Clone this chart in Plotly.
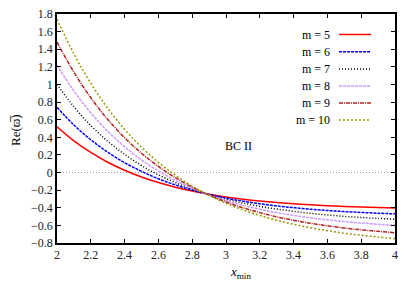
import plotly.graph_objects as go

x_min = [2.0, 2.1, 2.2, 2.3, 2.4, 2.5, 2.6, 2.7, 2.8, 2.9, 3.0,
         3.1, 3.2, 3.3, 3.4, 3.5, 3.6, 3.7, 3.8, 3.9, 4.0]

re_m5 = [0.520, 0.360, 0.228, 0.117, 0.026, -0.051, -0.114, -0.166, -0.210, -0.246, -0.277,
         -0.302, -0.323, -0.340, -0.354, -0.366, -0.376, -0.385, -0.392, -0.397, -0.402]
re_m6 = [0.740, 0.540, 0.372, 0.231, 0.112, 0.013, -0.071, -0.141, -0.199, -0.249, -0.290,
         -0.325, -0.354, -0.379, -0.399, -0.417, -0.431, -0.443, -0.453, -0.462, -0.469]
re_m7 = [1.000, 0.747, 0.534, 0.356, 0.206, 0.080, -0.026, -0.114, -0.189, -0.251, -0.303,
         -0.347, -0.384, -0.415, -0.441, -0.463, -0.482, -0.497, -0.510, -0.521, -0.530]
re_m8 = [1.220, 0.926, 0.678, 0.468, 0.292, 0.143, 0.017, -0.089, -0.178, -0.254, -0.318,
         -0.372, -0.417, -0.455, -0.487, -0.514, -0.537, -0.557, -0.573, -0.587, -0.599]
re_m9 = [1.480, 1.139, 0.849, 0.603, 0.395, 0.219, 0.069, -0.058, -0.166, -0.257, -0.334,
         -0.400, -0.455, -0.503, -0.542, -0.576, -0.605, -0.630, -0.650, -0.668, -0.683]
re_m10 = [1.740, 1.347, 1.013, 0.731, 0.491, 0.288, 0.116, -0.030, -0.155, -0.259, -0.349,
          -0.424, -0.488, -0.542, -0.588, -0.627, -0.660, -0.689, -0.712, -0.732, -0.750]

labels = ["m = 5", "m = 6", "m = 7", "m = 8", "m = 9", "m = 10"]
series = [re_m5, re_m6, re_m7, re_m8, re_m9, re_m10]
colors = ["#ff0000", "#0000ff", "#000000", "#cc99ff", "#b22222", "#999900"]
dashes = ["solid", "3px,1px", "1px,2px", "3px,1px", "4px,1px,1px,1px", "2px,2px"]

FONT = "Liberation Serif"

fig = go.Figure()
for lab, ys, c, d in zip(labels, series, colors, dashes):
    fig.add_trace(go.Scatter(x=x_min, y=ys, mode="lines", name=lab,
                             line=dict(color=c, width=1.5, dash=d, shape="spline"),
                             showlegend=False))

# zero reference line
fig.add_shape(type="line", xref="paper", x0=0, x1=1, yref="y", y0=0, y1=0,
              line=dict(color="#999999", width=1, dash="1px,2px"), layer="below")

# custom legend (text left of sample)
L, R, T, B = 57, 395, 14, 243
W, H = 415, 291
def px(xp):
    return (xp - L) / (R - L)
def py(yp):
    return (B - yp) / (B - T)

leg_y = [34.5, 51.7, 69.0, 86.0, 103.0, 120.0]
for lab, c, d, yy in zip(labels, colors, dashes, leg_y):
    fig.add_annotation(x=px(332), y=py(yy), xref="paper", yref="paper",
                       text=lab, showarrow=False, xanchor="right", yanchor="middle",
                       font=dict(family=FONT, size=12, color="#000"))
    fig.add_shape(type="line", xref="paper", yref="paper",
                  x0=px(339), x1=px(371), y0=py(yy), y1=py(yy),
                  line=dict(color=c, width=1.5, dash=d))

fig.add_annotation(x=px(238), y=py(146), xref="paper", yref="paper",
                   text="BC II", showarrow=False, xanchor="center", yanchor="middle",
                   font=dict(family=FONT, size=12, color="#000"))

# axis titles as annotations
fig.add_annotation(x=px(240), y=py(272), xref="paper", yref="paper",
                   text="<i>x</i><sub>min</sub>", showarrow=False,
                   xanchor="center", yanchor="middle",
                   font=dict(family=FONT, size=13, color="#000"))
fig.add_annotation(x=px(15), y=py(130), xref="paper", yref="paper",
                   text="Re(ϖ\u0305)", showarrow=False, textangle=-90,
                   xanchor="center", yanchor="middle",
                   font=dict(family=FONT, size=13, color="#000"))

axis_common = dict(showline=True, linecolor="#000", linewidth=1.5, mirror="ticks",
                   ticks="inside", ticklen=4, tickwidth=1, tickcolor="#000",
                   showgrid=False, zeroline=False, automargin=False,
                   tickfont=dict(family=FONT, size=12, color="#222"))

fig.update_layout(
    width=W, height=H,
    margin=dict(l=L, r=W - R, t=T, b=H - B),
    paper_bgcolor="white", plot_bgcolor="white",
    font=dict(family=FONT, size=12, color="#000"),
    xaxis=dict(range=[2, 4], dtick=0.2, tick0=2, **axis_common),
    yaxis=dict(range=[-0.8, 1.8], dtick=0.2, tick0=0, **axis_common),
)

fig.write_html("out.html", config={"displayModeBar": False},
               post_script="document.body.style.margin='0';document.body.style.padding='0';")
